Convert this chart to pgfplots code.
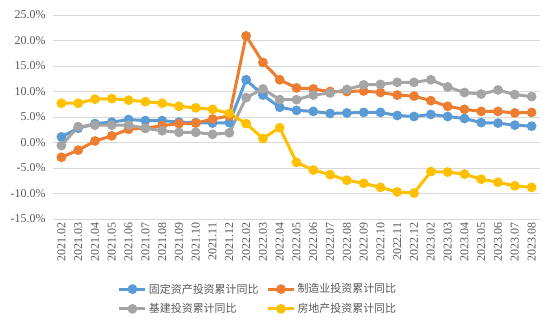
\documentclass[border=0pt]{standalone}
\usepackage{fontspec}
\setmainfont{Liberation Serif}
\newfontfamily\cjk{Noto Sans CJK SC}
\usepackage{pgfplots}
\usepackage{pgfplotstable}
\pgfplotsset{compat=1.18}
\definecolor{cblue}{HTML}{5B9BD5}
\definecolor{corange}{HTML}{ED7D31}
\definecolor{cgray}{HTML}{A5A5A5}
\definecolor{cyellow}{HTML}{FFC000}
\definecolor{gridgray}{HTML}{D9D9D9}
\definecolor{textgray}{HTML}{595959}
\pgfplotstableread{
i fa mfg infra re
0 1.1 -2.9 -0.6 7.7
1 2.8 -1.5 3.1 7.7
2 3.7 0.3 3.4 8.5
3 4.0 1.3 3.4 8.6
4 4.5 2.6 3.4 8.3
5 4.3 2.8 2.8 8.0
6 4.3 3.3 2.3 7.7
7 4.0 3.7 2.0 7.1
8 3.9 3.8 2.0 6.8
9 3.8 4.6 1.6 6.5
10 3.9 5.2 1.9 5.7
11 12.3 20.9 8.8 3.7
12 9.3 15.7 10.5 0.8
13 6.9 12.3 8.4 2.9
14 6.3 10.7 8.4 -3.9
15 6.1 10.5 9.3 -5.4
16 5.7 10.0 9.7 -6.3
17 5.8 10.0 10.4 -7.4
18 5.9 10.1 11.3 -8.0
19 5.9 9.8 11.4 -8.8
20 5.3 9.3 11.8 -9.7
21 5.1 9.1 11.8 -9.9
22 5.5 8.2 12.3 -5.7
23 5.1 7.1 10.9 -5.8
24 4.7 6.5 9.8 -6.2
25 3.9 6.1 9.5 -7.2
26 3.8 6.1 10.3 -7.8
27 3.4 5.8 9.4 -8.5
28 3.2 5.9 9.0 -8.8
}\datatable
\begin{document}
\begin{tikzpicture}[x=1bp,y=1bp]
\useasboundingbox (0,0) rectangle (554,328);
\begin{axis}[
  at={(53bp,109bp)}, anchor=south west,
  scale only axis, width=487bp, height=204bp,
  xmin=-0.5, xmax=28.5, ymin=-15, ymax=25,
  axis line style={draw=none},
  major tick length=0pt,
  ymajorgrids, grid style={color=gridgray, line width=0.75bp},
  ytick={-15,-10,-5,0,5,10,15,20,25},
  yticklabels={-15.0\%,-10.0\%,-5.0\%,0.0\%,5.0\%,10.0\%,15.0\%,20.0\%,25.0\%},
  yticklabel style={font=\fontsize{12}{12}\selectfont, text=textgray, xshift=-4bp},
  xtick={0,...,28},
  xticklabels={2021.02,2021.03,2021.04,2021.05,2021.06,2021.07,2021.08,2021.09,2021.10,2021.11,2021.12,2022.02,2022.03,2022.04,2022.05,2022.06,2022.07,2022.08,2022.09,2022.10,2022.11,2022.12,2023.02,2023.03,2023.04,2023.05,2023.06,2023.07,2023.08},
  xticklabel style={rotate=90, anchor=east, font=\fontsize{12}{12}\selectfont, text=textgray},
  legend columns=2,
  legend cell align=left,
  legend style={at={(0.421,-0.392)}, anchor=center, draw=none, fill=none,
    font=\cjk\fontsize{11}{11}\selectfont, text=textgray,
    /tikz/every even column/.append style={column sep=6bp},
    row sep=5bp},
  legend image code/.code={\draw[mark repeat=2,mark phase=2] plot coordinates {(0bp,0bp)(13bp,0bp)(26bp,0bp)};},
  every axis plot/.append style={line width=3bp, mark=*, mark size=3.3bp},
]
\addplot[cblue, mark options={fill=cblue, draw=cblue, solid}] table[x=i,y=fa]{\datatable};
\addlegendentry{固定资产投资累计同比}
\addplot[corange, mark options={fill=corange, draw=corange, solid}] table[x=i,y=mfg]{\datatable};
\addlegendentry{制造业投资累计同比}
\addplot[cgray, mark options={fill=cgray, draw=cgray, solid}] table[x=i,y=infra]{\datatable};
\addlegendentry{基建投资累计同比}
\addplot[cyellow, mark options={fill=cyellow, draw=cyellow, solid}] table[x=i,y=re]{\datatable};
\addlegendentry{房地产投资累计同比}
\end{axis}
\end{tikzpicture}
\end{document}
